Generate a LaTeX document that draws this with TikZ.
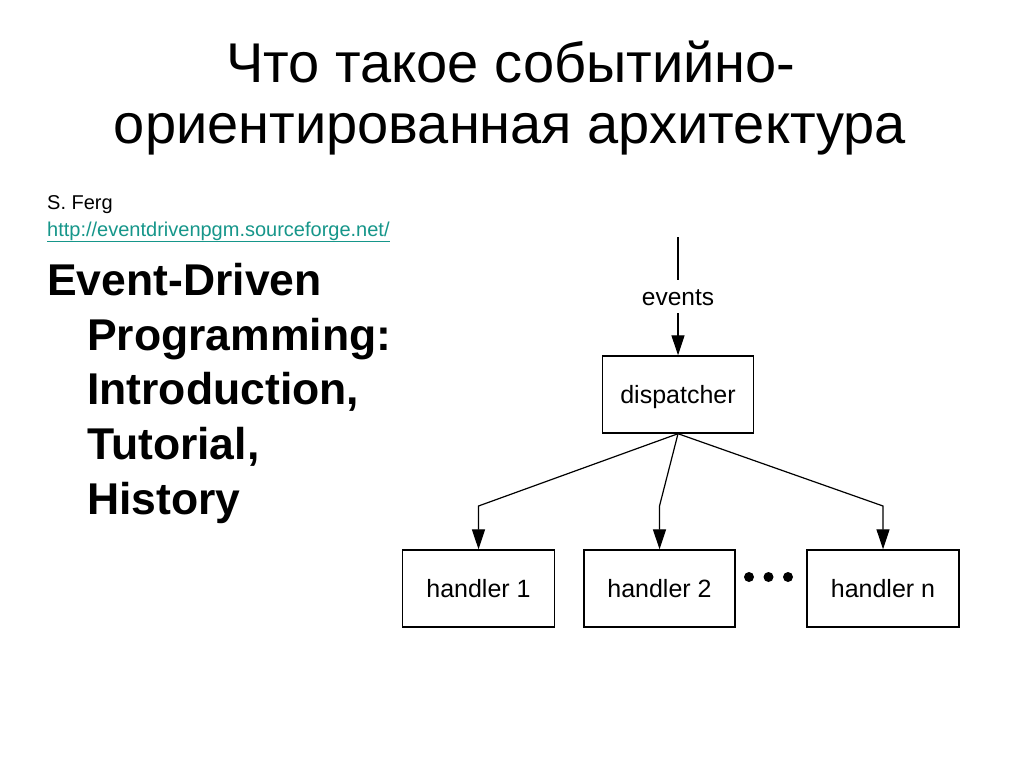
\documentclass[tikz,border=0pt]{standalone}
\usepackage{fontspec}
\setmainfont{Liberation Sans}
\usetikzlibrary{arrows.meta}
\definecolor{linkteal}{RGB}{22,150,138}
\tikzset{
  titletext/.style={anchor=base, inner sep=0pt, font=\fontsize{56}{61}\selectfont},
  smalltext/.style={anchor=base west, inner sep=0pt, font=\fontsize{20}{24}\selectfont},
  boldline/.style={anchor=base west, inner sep=0pt, font=\fontsize{44.5}{54}\selectfont\bfseries},
  box/.style={draw, line width=1.4pt, minimum width=152pt, minimum height=77pt, inner sep=0pt,
              text height=18pt, text depth=0pt, font=\fontsize{25}{29}\selectfont},
  conn/.style={line width=1.2pt},
  arr/.style={conn, -{Triangle[length=20pt,width=13pt]}},
}
\begin{document}
\begin{tikzpicture}[x=1pt,y=-1pt]
\useasboundingbox (0,0) rectangle (1024,768);
\fill[white] (0,0) rectangle (1024,768);

% title
\node[titletext] (t1) at (511,82) {Что такое событийно-};
\node[titletext] (t2) at (510,143) {ориентированная архитектура};

% author and link
\node[smalltext] (auth) at (47,209) {S. Ferg};
\node[smalltext, text=linkteal] (url) at (47,236) {\underline{http://eventdrivenpgm.sourceforge.net/}};

% bold reference
\node[boldline] (b1) at (47,295) {Event-Driven};
\node[boldline] (b2) at (87,350) {Programming:};
\node[boldline] (b3) at (87,404) {Introduction,};
\node[boldline] (b4) at (87,459) {Tutorial,};
\node[boldline] (b5) at (87,514) {History};

% diagram
\coordinate (src) at (678,237);
\node[inner sep=0pt, minimum height=33pt, text height=17pt, text depth=0pt,
      font=\fontsize{24.5}{29}\selectfont] (ev) at (678,296.5) {events};
\node[box, minimum width=151pt] (disp) at (678,394.5) {dispatcher};
\node[box] (h1) at (478.5,588.5) {handler 1};
\node[box, minimum width=151pt] (h2) at (659.5,588.5) {handler 2};
\node[box] (hn) at (883,588.5) {handler n};

\coordinate (k1) at (478.5,506);
\coordinate (k2) at (659.5,506);
\coordinate (kn) at (883,506);

\draw[conn] (src) -- (ev.north);
\draw[arr] (ev.south) -- (disp.north);
\draw[arr] (disp.south) -- (k1) -- (h1.north);
\draw[arr] (disp.south) -- (k2) -- (h2.north);
\draw[arr] (disp.south) -- (kn) -- (hn.north);

% ellipsis dots
\fill (749,577) circle (5);
\fill (768.5,577) circle (5);
\fill (788,577) circle (5);
\end{tikzpicture}
\end{document}
